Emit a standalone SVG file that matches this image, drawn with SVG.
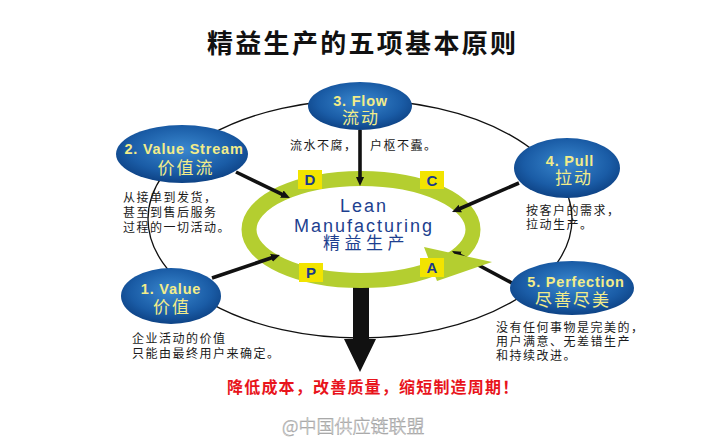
<svg xmlns="http://www.w3.org/2000/svg" width="721" height="437" viewBox="0 0 721 437">
<defs>
<radialGradient id="blue" cx="50%" cy="42%" r="62%">
<stop offset="0%" stop-color="#3a88cf"/>
<stop offset="65%" stop-color="#1a5ca6"/>
<stop offset="100%" stop-color="#0b3d7e"/>
</radialGradient>
<marker id="ah" viewBox="0 0 10 10" refX="3" refY="5" markerWidth="9" markerHeight="9" markerUnits="userSpaceOnUse" orient="auto">
<path d="M0,0.5 L10,5 L0,9.5 z" fill="#111"/>
</marker>
<style>
.node{fill:url(#blue);}
.en{font-family:"Liberation Sans",Arial,sans-serif;font-weight:bold;font-size:14.5px;fill:#f2ec8a;letter-spacing:0.8px;text-anchor:middle;}
.zh{font-family:"Noto Sans CJK SC","Noto Sans",sans-serif;font-size:17px;fill:#f2ec8a;letter-spacing:2px;text-anchor:middle;}
.desc{font-family:"Noto Sans CJK SC","Noto Sans",sans-serif;font-size:12px;fill:#1a1a1a;letter-spacing:1.5px;}
.conn{stroke:#111;stroke-width:3.6;fill:none;marker-end:url(#ah);}
.sq{fill:#f2e400;}
.pdca{font-family:"Liberation Sans",Arial,sans-serif;font-weight:bold;font-size:15px;fill:#1a3a8a;text-anchor:middle;}
.lean{font-family:"Liberation Sans",Arial,sans-serif;font-size:18px;fill:#1d3f8f;letter-spacing:2px;text-anchor:middle;}
</style>
</defs>
<rect width="721" height="437" fill="#fff"/>
<text x="207" y="53" font-family="'Noto Sans CJK SC',sans-serif" font-weight="bold" font-size="26" letter-spacing="2.3" fill="#111">精益生产的五项基本原则</text>

<ellipse id="orbit" cx="360" cy="219" rx="212" ry="119" fill="none" stroke="#111" stroke-width="1.3"/>

<g id="output-arrow">
<polygon points="353,284 369,284 369,339 376,339 360,372 344,339 353,339" fill="#111"/>
</g>

<g id="lean-ring">
<ellipse cx="361" cy="229.5" rx="112" ry="51" fill="none" stroke="#b4ce30" stroke-width="15"/>
</g>

<g id="connectors">
<line class="conn" x1="360" y1="130" x2="360" y2="179.7"/>
<line class="conn" x1="236" y1="172" x2="284.3" y2="195.3"/>
<line class="conn" x1="519" y1="183" x2="457.8" y2="209.5"/>
<line class="conn" x1="212" y1="278" x2="274" y2="257"/>
<line class="conn" x1="512" y1="283" x2="457.6" y2="254"/>
</g>

<g id="lean-ring-head">
<polygon points="424,247 492,262 437,281" fill="#b4ce30"/>
</g>

<g id="lean">
<text class="lean" x="364" y="211.5">Lean</text>
<text class="lean" x="364" y="231.5">Manufacturing</text>
<text x="366" y="249" font-family="'Noto Sans CJK SC',sans-serif" font-size="17" letter-spacing="4.5" fill="#1d3f8f" text-anchor="middle">精益生产</text>
</g>

<g id="pdca-d"><rect class="sq" x="298" y="170" width="24" height="19"/><text class="pdca" x="310" y="185">D</text></g>
<g id="pdca-c"><rect class="sq" x="420" y="171" width="24" height="18"/><text class="pdca" x="432" y="185.5">C</text></g>
<g id="pdca-p"><rect class="sq" x="299" y="263" width="24" height="19"/><text class="pdca" x="311" y="278">P</text></g>
<g id="pdca-a"><rect class="sq" x="420" y="258" width="24" height="19"/><text class="pdca" x="432" y="273">A</text></g>

<g id="flow">
<ellipse class="node" cx="360" cy="106" rx="52" ry="24"/>
<text class="en" x="360.5" y="105.5">3. Flow</text>
<text class="zh" x="361" y="124">流动</text>
<text class="desc" x="290" y="149.5">流水不腐，</text>
<text class="desc" x="370" y="149.5">户枢不蠹。</text>
</g>

<g id="value-stream">
<ellipse class="node" cx="182" cy="154" rx="66" ry="29"/>
<text class="en" x="184" y="154">2. Value Stream</text>
<text class="zh" x="186" y="174">价值流</text>
<text class="desc" x="123" y="201.5">从接单到发货，</text>
<text class="desc" x="123" y="217">甚至到售后服务</text>
<text class="desc" x="123" y="231.5">过程的一切活动。</text>
</g>

<g id="pull">
<ellipse class="node" cx="567" cy="168" rx="53" ry="30"/>
<text class="en" x="570" y="165.5">4. Pull</text>
<text class="zh" x="574" y="184">拉动</text>
<text class="desc" x="526" y="214.5">按客户的需求，</text>
<text class="desc" x="526" y="228.5">拉动生产。</text>
</g>

<g id="value">
<ellipse class="node" cx="171" cy="296" rx="50" ry="28"/>
<text class="en" x="171" y="293.5">1. Value</text>
<text class="zh" x="172" y="313">价值</text>
<text class="desc" x="132" y="342.5">企业活动的价值</text>
<text class="desc" x="132" y="357.5">只能由最终用户来确定。</text>
</g>

<g id="perfection">
<ellipse class="node" cx="572" cy="288" rx="62" ry="27"/>
<text class="en" x="576" y="286.5">5. Perfection</text>
<text class="zh" x="573" y="306">尽善尽美</text>
<text class="desc" x="496" y="331.5">没有任何事物是完美的，</text>
<text class="desc" x="496" y="345.5">用户满意、无差错生产</text>
<text class="desc" x="496" y="359.5">和持续改进。</text>
</g>

<text x="227" y="393" font-family="'Noto Sans CJK SC',sans-serif" font-weight="bold" font-size="16" letter-spacing="1.2" fill="#e8141c">降低成本，改善质量，缩短制造周期！</text>
<text x="282" y="433" font-family="'Noto Sans CJK SC',sans-serif" font-weight="300" font-size="18" fill="#fafafa" stroke="#9a9a9a" stroke-width="0.5">@中国供应链联盟</text>
</svg>
